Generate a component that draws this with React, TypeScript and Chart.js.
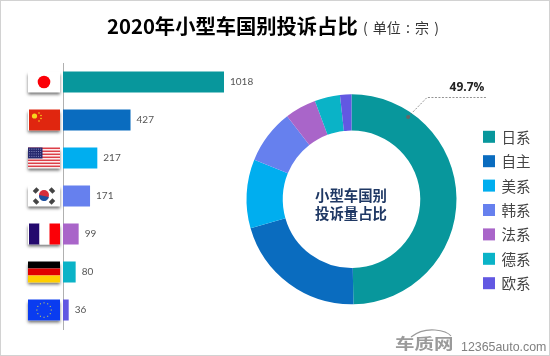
import React, { useEffect, useRef } from "react";
import { Chart, registerables } from "chart.js";

Chart.register(...registerables);

const categories = ["日系", "自主", "美系", "韩系", "法系", "德系", "欧系"];
const flags = ["jp", "cn", "us", "kr", "fr", "de", "eu"];
const values = [1018, 427, 217, 171, 99, 80, 36];
const colors = ["#08979c", "#0a6cbf", "#00aeef", "#6680ee", "#a965c9", "#0ab3c7", "#6258e2"];
const calloutLabel = "49.7%";
const centerLines = ["小型车国别", "投诉量占比"];

const W = 550;
const H = 356;
const CJK = '"Noto Sans CJK SC", sans-serif';

function drawFlag(ctx: CanvasRenderingContext2D, kind: string, cx: number, cy: number) {
  const w = 32, h = 21;
  const x = cx - w / 2, y = cy - h / 2;
  ctx.save();
  ctx.shadowColor = "rgba(0,0,0,0.55)";
  ctx.shadowBlur = 3;
  ctx.shadowOffsetY = 2;
  ctx.fillStyle = "#fff";
  ctx.fillRect(x, y, w, h);
  ctx.restore();
  ctx.save();
  const rect = (c: string, a: number, b: number, cw: number, ch: number) => {
    ctx.fillStyle = c;
    ctx.fillRect(x + a, y + b, cw, ch);
  };
  const disc = (c: string, a: number, b: number, r: number) => {
    ctx.fillStyle = c;
    ctx.beginPath();
    ctx.arc(cx + a, cy + b, r, 0, Math.PI * 2);
    ctx.fill();
  };
  if (kind === "jp") {
    disc("#fb0007", 0, 0, 6.3);
  } else if (kind === "cn") {
    rect("#e0260f", 1, 0, 31, h);
    disc("#f7d51d", -9.5, -4, 2.6);
    disc("#f7d51d", -5, -7, 0.8);
    disc("#f7d51d", -3, -4.5, 0.8);
    disc("#f7d51d", -3, -1.5, 0.8);
    disc("#f7d51d", -5, 1, 0.8);
  } else if (kind === "us") {
    for (let i = 0; i < 7; i++) rect("#dc3f48", 0, i * 3, w, 1.6);
    rect("#26286e", 0, 0, 14.5, 11);
    ctx.fillStyle = "#9a9ccc";
    for (let r = 0; r < 4; r++) for (let c = 0; c < 6; c++) ctx.fillRect(x + 1.2 + c * 2.2, y + 1.2 + r * 2.4, 0.9, 0.9);
  } else if (kind === "kr") {
    disc("#d62d3a", 0, -1, 5);
    ctx.beginPath();
    ctx.arc(cx, cy, 5, 0.2, Math.PI + 0.2);
    ctx.fillStyle = "#1f4f9e";
    ctx.fill();
    ctx.fillStyle = "#444";
    for (const [a, b] of [[-8, -5.5], [8, -5.5], [-8, 5.5], [8, 5.5]]) {
      ctx.save();
      ctx.translate(cx + a, cy + b);
      ctx.rotate(a * b > 0 ? Math.PI / 4 : -Math.PI / 4);
      ctx.fillRect(-2, -2.6, 4, 5.2);
      ctx.restore();
    }
  } else if (kind === "fr") {
    rect("#240a6e", 1, 0, 10.5, h);
    rect("#ffffff", 11.5, 0, 10, h);
    rect("#fb0007", 21.5, 0, 10.5, h);
  } else if (kind === "de") {
    rect("#000000", 0, 0, w, 7);
    rect("#e00000", 0, 7, w, 7);
    rect("#ffce00", 0, 14, w, 7);
  } else {
    rect("#0a3cf0", 0, 0, w, h);
    ctx.fillStyle = "#b9c46a";
    for (let i = 0; i < 12; i++) {
      const t = (i * Math.PI) / 6;
      ctx.fillRect(cx + Math.cos(t) * 7.2 - 0.5, cy + Math.sin(t) * 7.2 - 0.5, 1.1, 1.1);
    }
  }
  ctx.restore();
}

const barExtras = {
  id: "barExtras",
  afterDatasetsDraw(chart: any) {
    const { ctx } = chart;
    const meta = chart.getDatasetMeta(0);
    ctx.save();
    meta.data.forEach((el: any, i: number) => {
      drawFlag(ctx, flags[i], 44, el.y);
      ctx.fillStyle = "#555";
      ctx.font = "10px Lato, sans-serif";
      ctx.textAlign = "left";
      ctx.textBaseline = "middle";
      ctx.fillText(String(values[i]), el.x + 6, el.y);
    });
    ctx.restore();
  },
};

const donutExtras = {
  id: "donutExtras",
  afterDatasetsDraw(chart: any) {
    const { ctx } = chart;
    const arc = chart.getDatasetMeta(0).data[0];
    ctx.save();
    ctx.fillStyle = "#1f3864";
    ctx.font = `bold 14.4px ${CJK}`;
    ctx.textAlign = "center";
    ctx.textBaseline = "middle";
    ctx.fillText(centerLines[0], arc.x - 0.5, arc.y - 4);
    ctx.fillText(centerLines[1], arc.x - 0.5, arc.y + 14);
    const anchor = -Math.PI / 2 + (34.5 * Math.PI) / 180;
    const rr = arc.outerRadius - 5;
    const px = arc.x + Math.cos(anchor) * rr;
    const py = arc.y + Math.sin(anchor) * rr;
    ctx.strokeStyle = "#777";
    ctx.lineWidth = 0.8;
    ctx.setLineDash([2, 1.5]);
    ctx.beginPath();
    ctx.moveTo(px, py);
    ctx.lineTo(427, 97.5);
    ctx.lineTo(487, 97.5);
    ctx.stroke();
    ctx.setLineDash([]);
    ctx.fillStyle = "#666";
    ctx.beginPath();
    ctx.arc(px, py, 2, 0, Math.PI * 2);
    ctx.fill();
    ctx.fillStyle = "#222";
    ctx.font = 'bold 12px "Open Sans", sans-serif';
    ctx.textAlign = "center";
    ctx.fillText(calloutLabel, 467, 87.5);
    categories.forEach((c, i) => {
      const y = 136.8 + i * 24.4;
      ctx.fillStyle = colors[i];
      ctx.fillRect(483, y - 6, 12, 12);
      ctx.fillStyle = "#444";
      ctx.font = `14.5px ${CJK}`;
      ctx.textAlign = "left";
      ctx.fillText(c, 501.5, y + 0.5);
    });
    ctx.restore();
  },
};

export default function App() {
  const barRef = useRef<HTMLCanvasElement>(null);
  const donutRef = useRef<HTMLCanvasElement>(null);

  useEffect(() => {
    const bar = new Chart(barRef.current!, {
      type: "bar",
      data: {
        labels: categories,
        datasets: [{ data: values, backgroundColor: colors, categoryPercentage: 1, barPercentage: 0.553, borderWidth: 0 }],
      },
      options: {
        indexAxis: "y",
        animation: false,
        responsive: false,
        layout: { padding: { left: 63, right: W - 224, top: 63, bottom: H - 329 } },
        plugins: { legend: { display: false }, tooltip: { enabled: false } },
        scales: {
          x: { display: false, min: 0, max: 1018 },
          y: {
            display: true,
            ticks: { display: false },
            grid: { display: false, drawTicks: false },
            border: { display: true, color: "#b0b0b0", width: 1 },
          },
        },
      },
      plugins: [barExtras],
    } as any);
    const donut = new Chart(donutRef.current!, {
      type: "doughnut",
      data: {
        labels: categories,
        datasets: [{ data: values, backgroundColor: colors, borderWidth: 0 }],
      },
      options: {
        animation: false,
        responsive: false,
        cutout: "65.5%",
        layout: { padding: { left: 246.5, right: W - 456.5, top: 94.3, bottom: H - 304.3 } },
        plugins: { legend: { display: false }, tooltip: { enabled: false } },
      },
      plugins: [donutExtras],
    } as any);
    return () => {
      bar.destroy();
      donut.destroy();
    };
  }, []);

  const layer: React.CSSProperties = { position: "absolute", left: 0, top: 0, width: W, height: H };
  return (
    <div style={{ position: "absolute", left: 0, top: 0, width: W, height: H, background: "#fff", overflow: "hidden", boxSizing: "border-box", border: "1px solid #d2d2d2" }}>
      <div style={{ position: "absolute", left: -1, top: -1, width: W, height: H }}>
        <canvas ref={barRef} width={W} height={H} style={layer} />
        <canvas ref={donutRef} width={W} height={H} style={layer} />
        <div style={{ position: "absolute", left: 107, top: 10, whiteSpace: "nowrap", fontFamily: CJK, color: "#000", lineHeight: "30px", fontWeight: 700, fontSize: 20.3 }}>2020年小型车国别投诉占比</div>
        <div style={{ position: "absolute", left: 363, top: 14, whiteSpace: "pre", fontFamily: CJK, color: "#333", lineHeight: "26px", fontSize: 14, wordSpacing: 2 }}>( 单位 : 宗 )</div>
        <svg style={{ position: "absolute", left: 385, top: 325 }} width={80} height={20}>
          <path d="M26 12 Q36 4 50 5 Q62 6 66 11" fill="none" stroke="#9a9a9a" strokeWidth={1.2} />
        </svg>
        <div style={{ position: "absolute", left: 395, top: 332, whiteSpace: "nowrap", color: "#9a9a9a", fontFamily: CJK, fontWeight: 700, fontSize: 15, lineHeight: "22px", transform: "scaleX(1.3)", transformOrigin: "left center" }}>车质网</div>
        <div style={{ position: "absolute", left: 461, top: 340, whiteSpace: "nowrap", color: "#808080", fontFamily: '"Liberation Sans", sans-serif', fontSize: 12.4, lineHeight: "14px" }}>12365auto.com</div>
      </div>
    </div>
  );
}
